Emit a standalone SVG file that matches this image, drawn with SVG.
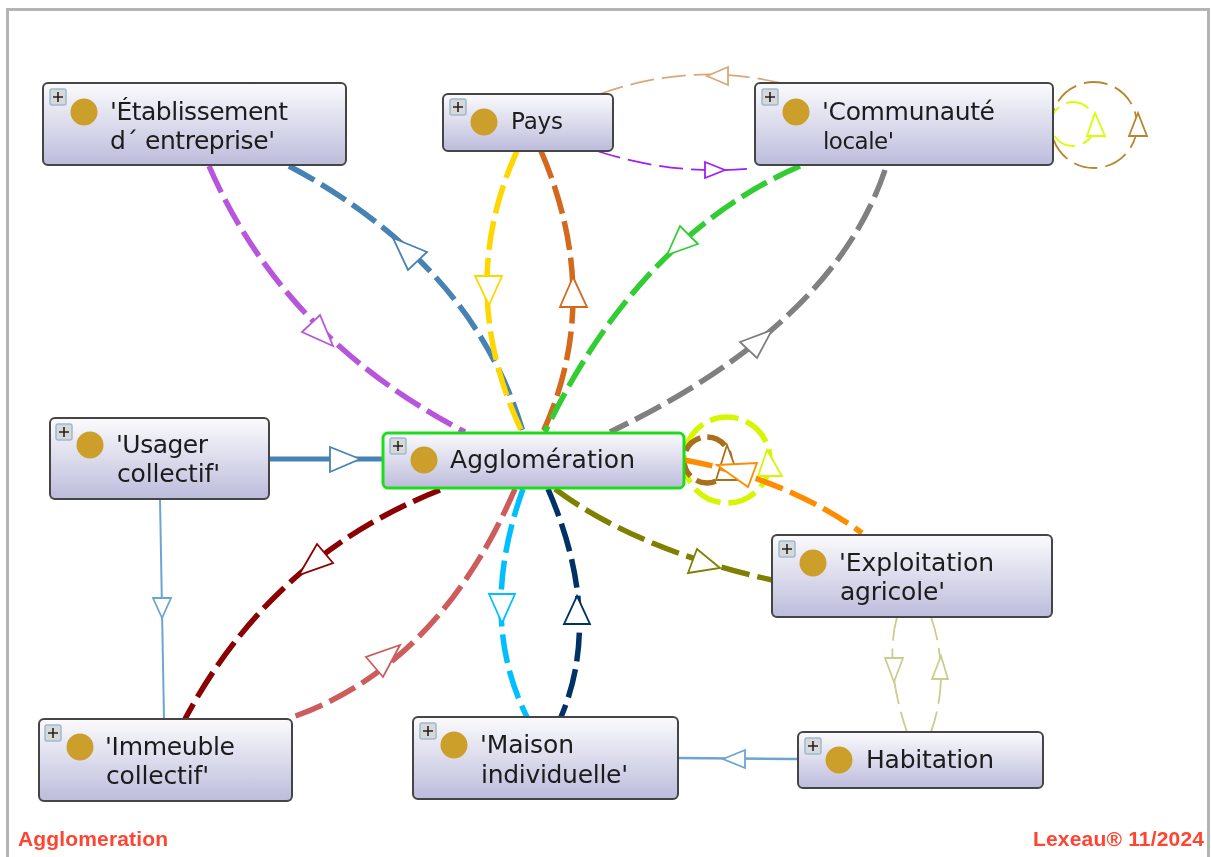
<svg xmlns="http://www.w3.org/2000/svg" width="1211" height="857" viewBox="0 0 1211 857">
<style>
.c path,.c circle{fill:none}
.c polygon{fill:#fff;stroke-width:1.8}
.thick path,.thick circle{stroke-width:5.500;stroke-dasharray:29 8}
.thin path,.thin circle{stroke-width:1.800;stroke-dasharray:24 8}
.solid path{stroke-dasharray:none}
.box{fill:url(#nodeFill);stroke:#444;stroke-width:2}
.sel{stroke:#1fdc1f;stroke-width:3}
.ic{fill:#d8d8d8;stroke:#9db9d2;stroke-width:1.5}
.pl{stroke:#222;stroke-width:1.6}
.dot{fill:#cc9e2c}
.t{font-family:"DejaVu Sans",sans-serif;font-size:25px;fill:#1a1a1a}
.s{font-size:23px}
.f{font-family:"Liberation Sans",Arial,sans-serif;font-size:21px;font-weight:bold;fill:#ff4433}
</style>
<defs>
<linearGradient id="nodeFill" x1="0" y1="0" x2="0" y2="1"><stop offset="0" stop-color="#fbfbfd"/><stop offset="1" stop-color="#bcbcdc"/></linearGradient>
<filter id="soft" x="-2%" y="-2%" width="104%" height="104%"><feGaussianBlur stdDeviation="0.45"/></filter>
<g id="ex"><rect class="ic" x="0" y="0" width="16" height="16" rx="2"/><path class="pl" d="M3 8H13M8 3V13"/></g>
</defs>
<rect width="1211" height="857" fill="#fff"/>
<g filter="url(#soft)">
<path d="M7.500 857V9.500H1208.500V857" fill="none" stroke="#b4b4b4" stroke-width="3"/>
<g id="connectors" class="c">
<g class="thick" stroke="#b857db"><path d="M209 166Q283 337 465 432"/><polygon points="333,346 302,332 320,315"/></g>
<g class="thick" stroke="#4682b4"><path d="M289 166Q474 265 523 432"/><polygon points="393,238 427,252 408,270"/></g>
<g class="thick" stroke="#ffd700"><path d="M517 151Q454.500 289 522 432"/><polygon points="489,305 475,276 502,276"/></g>
<g class="thick" stroke="#d2691e"><path d="M541 151Q604 298 543 432"/><polygon points="573,277 560,307 587,307"/></g>
<g class="thick" stroke="#32cd32"><path d="M800 166Q638 237 545 432"/><polygon points="667,255 680,226 698,244"/></g>
<g class="thick" stroke="#808080"><path d="M885 170Q833 325 610 432"/><polygon points="772,330 740,342 757,358"/></g>
<g class="thin" stroke="#d9a877"><path d="M600 94Q690 61.500 780 83"/><polygon points="707,76 728,67 728,85"/></g>
<g class="thin" stroke="#a020f0"><path d="M597 151Q676 176.500 755 168"/><polygon points="725,170 705,162 705,178"/></g>
<g class="thin" stroke="#b8862b"><circle cx="1094" cy="125" r="43"/><polygon points="1138,113 1129,136 1147,136"/></g>
<g class="thin" stroke="#d6ff00"><circle cx="1073" cy="124" r="22"/><polygon points="1095,113 1087,136 1105,136"/></g>
<g class="thick" stroke="#d6f500"><circle cx="727" cy="460" r="43"/><polygon points="767,450 758,476 782,476"/></g>
<g class="thick" stroke="#a8701a"><circle cx="707" cy="460" r="23" style="stroke-dasharray:20 7"/><polygon points="727,445 716,480 740,480"/></g>
<g class="thick" stroke="#ff8c00"><path d="M684 460Q785 478 862 533"/><polygon points="717,465 757,463 748,487"/></g>
<g class="thick" stroke="#808000"><path d="M555 489Q636.500 549.500 772 580"/><polygon points="720,568 697,549 688,573"/></g>
<g class="thick" stroke="#00bfff"><path d="M523 489Q477 617 527 717"/><polygon points="502,623 489,594 515,594"/></g>
<g class="thick" stroke="#003366"><path d="M548 489Q603.500 617 561 717"/><polygon points="577,596 564,624 590,624"/></g>
<g class="thick" stroke="#cd5c5c"><path d="M515 489Q438 667 290 718"/><polygon points="400,645 366,657 383,677"/></g>
<g class="thick" stroke="#8b0000"><path d="M440 490Q272 556 185 719"/><polygon points="299,575 317,544 333,563"/></g>
<g class="thin" stroke="#cccc8f"><path d="M897 617Q884 665 907 732"/><polygon points="894,682 885,658 903,658"/></g>
<g class="thin" stroke="#cccc8f"><path d="M931 617Q951 675 931 732"/><polygon points="941,656 932,679 948,679"/></g>
<g class="solid" stroke="#4682b4"><path d="M269 459H383" stroke-width="5"/><polygon points="360,459 330,447 330,472"/></g>
<g class="solid" stroke="#6ea5d0"><path d="M160 499L164 719" stroke-width="2"/><polygon points="162,618 153,598 171,598"/></g>
<g class="solid" stroke="#6ea5d0"><path d="M798 759L678 758" stroke-width="2.500"/><polygon points="723,759 745,750 745,768"/></g>
</g>
<g id="n-etablissement"><rect class="box" x="43" y="83" width="303" height="82" rx="5"/><use href="#ex" x="50" y="89"/><circle class="dot" cx="84" cy="112" r="13.500"/><text class="t" x="110" y="120" textLength="178">'Établissement</text><text class="t" x="110" y="149" textLength="165">d´ entreprise'</text></g>
<g id="n-pays"><rect class="box" x="443" y="94" width="170" height="57" rx="5"/><use href="#ex" x="450" y="99"/><circle class="dot" cx="484" cy="122" r="13.500"/><text class="t s" x="511" y="129" textLength="52">Pays</text></g>
<g id="n-communaute"><rect class="box" x="755" y="83" width="298" height="82" rx="5"/><use href="#ex" x="762" y="89"/><circle class="dot" cx="796" cy="112" r="13.500"/><text class="t" x="822" y="120" textLength="173">'Communauté</text><text class="t s" x="823" y="149" textLength="71">locale'</text></g>
<g id="n-agglomeration"><rect class="box sel" x="383" y="433" width="301" height="55" rx="5"/><use href="#ex" x="390" y="438"/><circle class="dot" cx="424" cy="460" r="13.500"/><text class="t" x="450" y="468" textLength="185">Agglomération</text></g>
<g id="n-usager"><rect class="box" x="50" y="418" width="219" height="81" rx="5"/><use href="#ex" x="56" y="424"/><circle class="dot" cx="90" cy="445" r="13.500"/><text class="t" x="116" y="453" textLength="92">'Usager</text><text class="t" x="117" y="482" textLength="103">collectif'</text></g>
<g id="n-immeuble"><rect class="box" x="39" y="719" width="253" height="82" rx="5"/><use href="#ex" x="45" y="725"/><circle class="dot" cx="80" cy="747" r="13.500"/><text class="t" x="105" y="755" textLength="130">'Immeuble</text><text class="t" x="106" y="784" textLength="103">collectif'</text></g>
<g id="n-maison"><rect class="box" x="413" y="717" width="265" height="82" rx="5"/><use href="#ex" x="420" y="723"/><circle class="dot" cx="454" cy="745" r="13.500"/><text class="t" x="480" y="753" textLength="94">'Maison</text><text class="t" x="481" y="783" textLength="147">individuelle'</text></g>
<g id="n-habitation"><rect class="box" x="798" y="732" width="245" height="56" rx="5"/><use href="#ex" x="805" y="738"/><circle class="dot" cx="839" cy="760" r="13.500"/><text class="t" x="866" y="768" textLength="128">Habitation</text></g>
<g id="n-exploitation"><rect class="box" x="772" y="535" width="280" height="82" rx="5"/><use href="#ex" x="779" y="541"/><circle class="dot" cx="813" cy="563" r="13.500"/><text class="t" x="839" y="571" textLength="155">'Exploitation</text><text class="t" x="840" y="600" textLength="105">agricole'</text></g>
<text class="f" x="18" y="846" textLength="150">Agglomeration</text>
<text class="f" x="1033" y="846" textLength="171">Lexeau® 11/2024</text>
</g>
</svg>
